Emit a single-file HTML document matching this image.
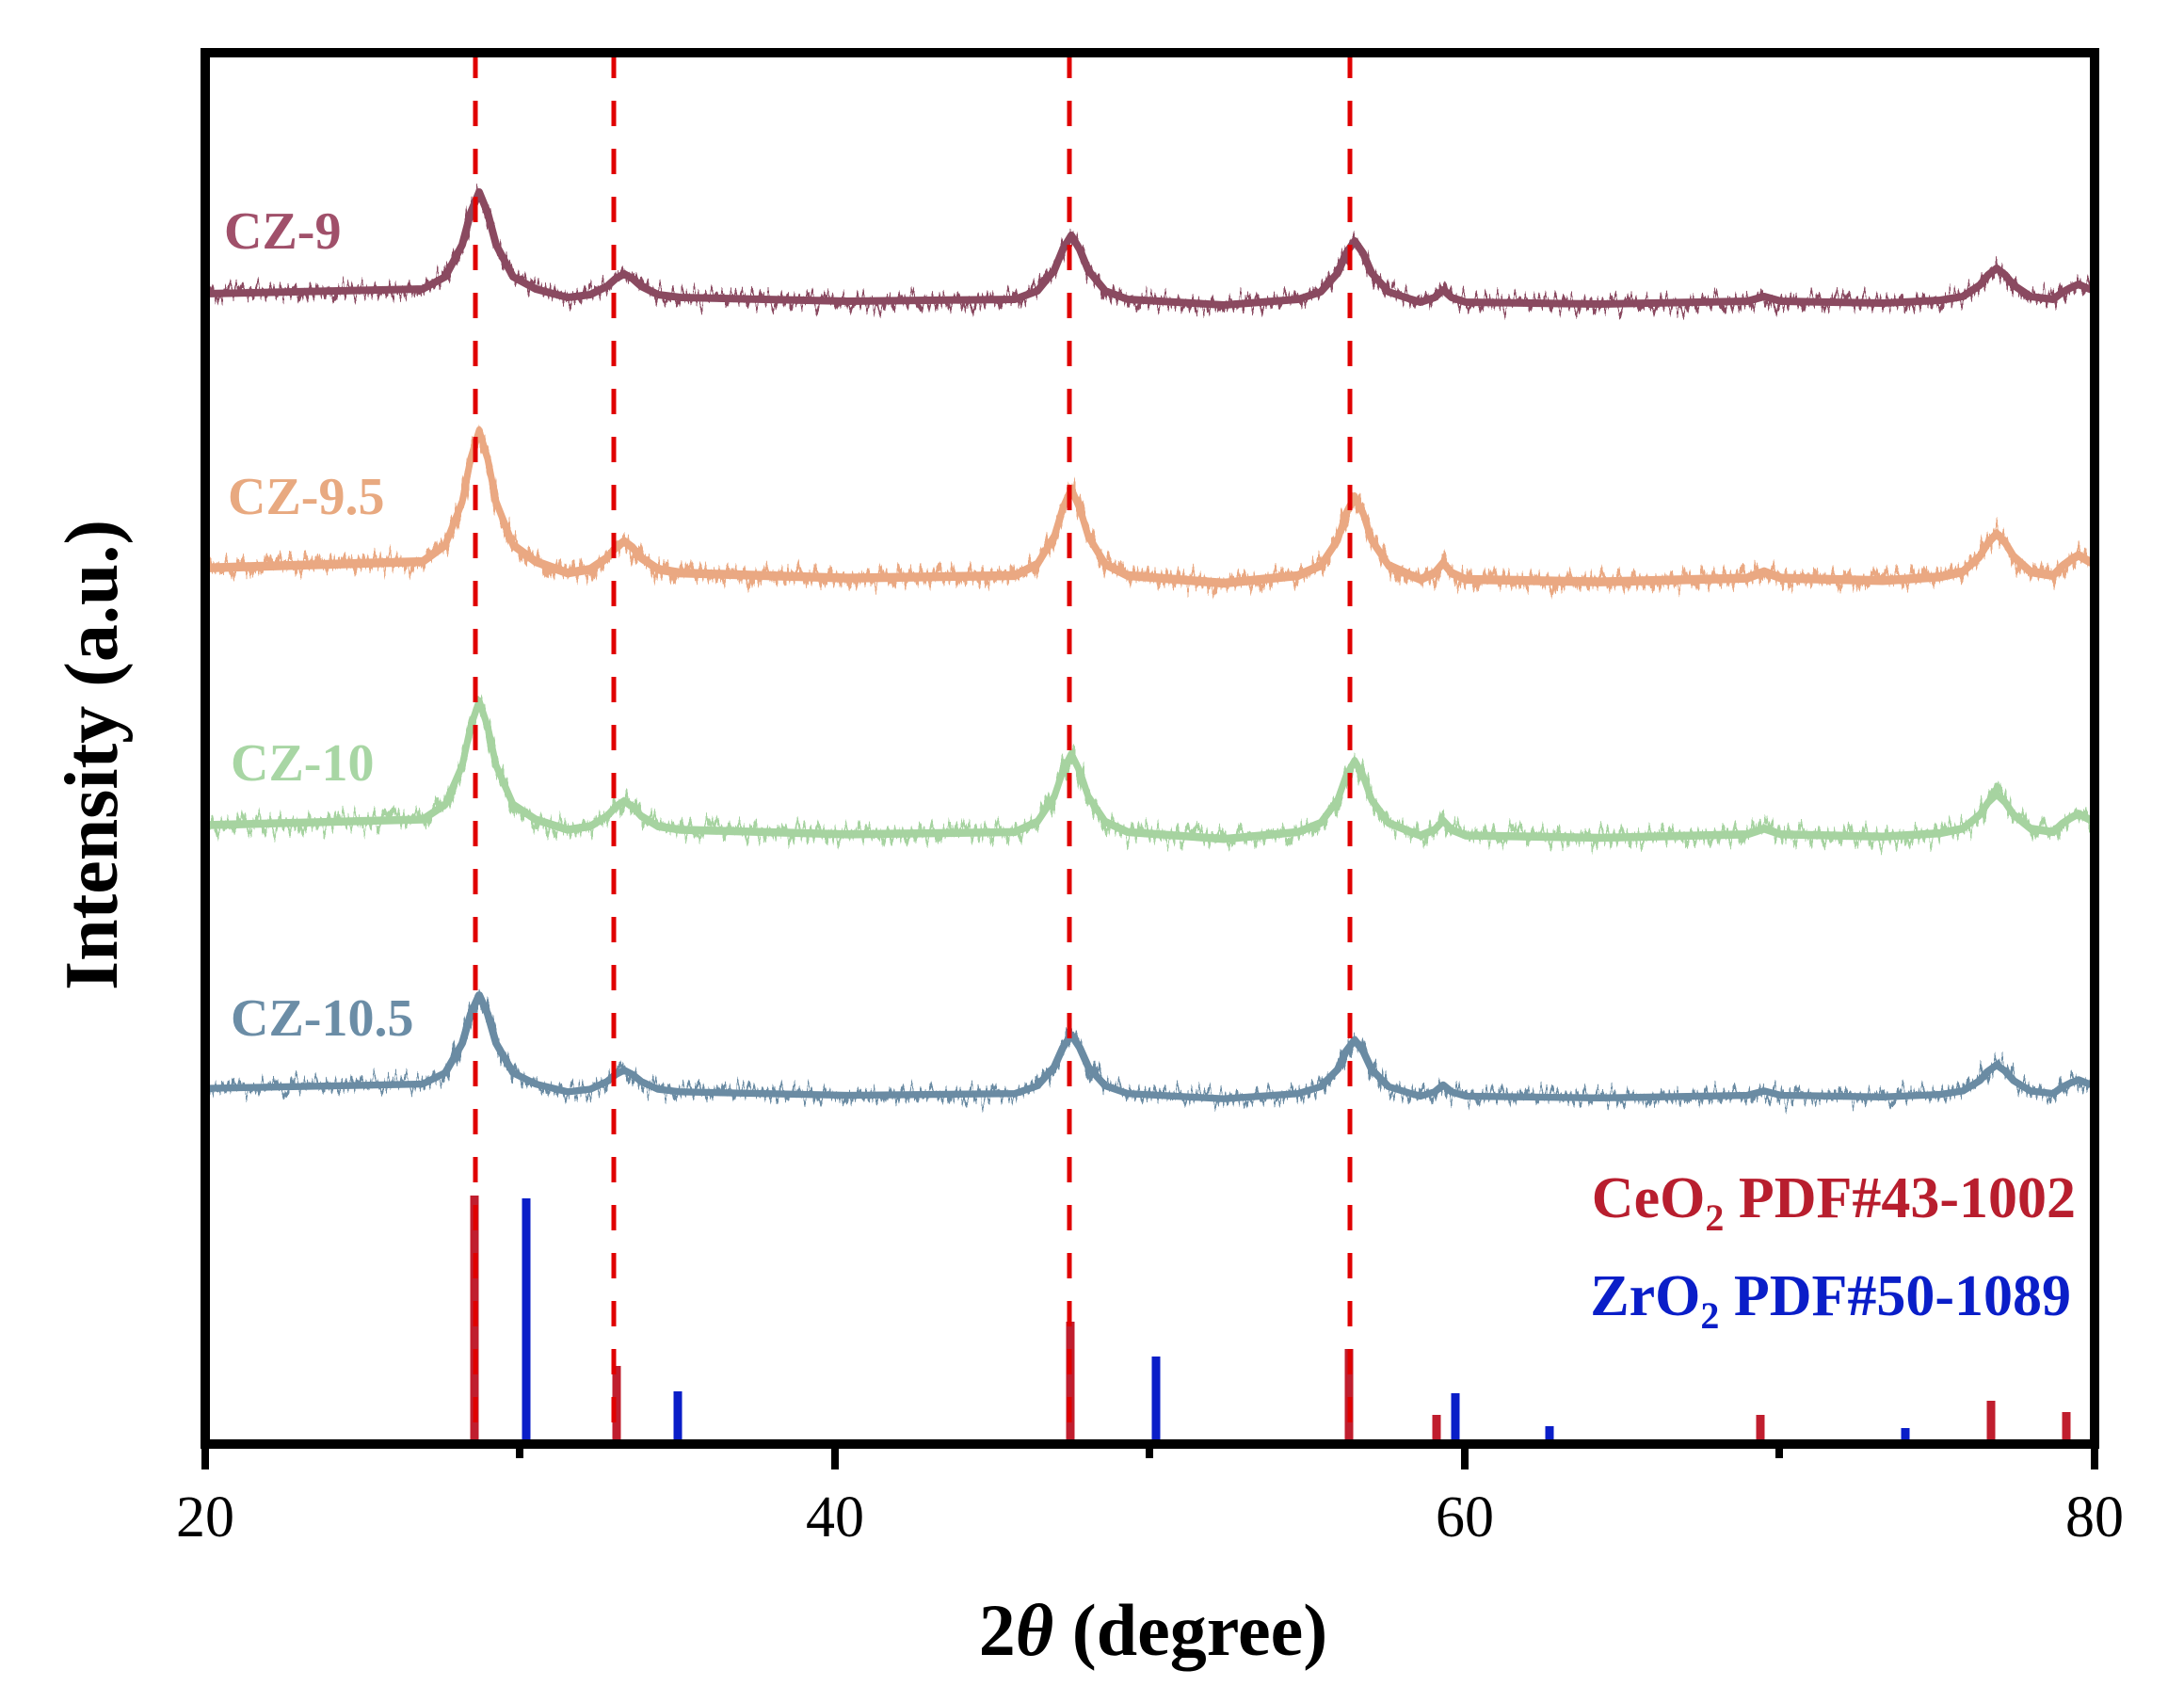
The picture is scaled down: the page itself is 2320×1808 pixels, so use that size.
<!DOCTYPE html>
<html><head><meta charset="utf-8"><style>
html,body{margin:0;padding:0;background:#fff;}
svg{display:block;}
text{font-family:"Liberation Serif",serif;}
</style></head><body>
<svg width="2320" height="1808" viewBox="0 0 2320 1808" xmlns="http://www.w3.org/2000/svg" xmlns:xlink="http://www.w3.org/1999/xlink">
<defs>
<filter id="nz" filterUnits="userSpaceOnUse" x="0" y="0" width="2320" height="1808">
<feTurbulence type="fractalNoise" baseFrequency="0.3 0.004" numOctaves="2" seed="3" result="t"/>
<feColorMatrix in="t" type="matrix" values="0 0 0 0 0.5  0 1 0 0 0  0 0 0 0 0  0 0 0 0 1" result="m"/>
<feDisplacementMap in="SourceGraphic" in2="m" scale="40" xChannelSelector="R" yChannelSelector="G"/>
</filter>
<filter id="nz2" filterUnits="userSpaceOnUse" x="0" y="0" width="2320" height="1808">
<feTurbulence type="fractalNoise" baseFrequency="0.3 0.004" numOctaves="2" seed="11" result="t"/>
<feColorMatrix in="t" type="matrix" values="0 0 0 0 0.5  0 1 0 0 0  0 0 0 0 0  0 0 0 0 1" result="m"/>
<feDisplacementMap in="SourceGraphic" in2="m" scale="40" xChannelSelector="R" yChannelSelector="G"/>
</filter>
<path id="cv" fill="none" stroke-linejoin="round" d="M218 312 L449 307 L473 294 L491 260 L500 226 L509 204 L518 226 L527 260 L545 294 L569 307 L603 316 L627 313 L645 304 L654 296 L663 291 L672 296 L681 304 L699 313 L723 316 L900 320 L1078 318 L1102 309 L1120 287 L1129 265 L1138 250 L1147 265 L1156 287 L1174 309 L1198 318 L1300 324 L1379 318 L1403 310 L1421 290 L1430 269 L1439 256 L1448 269 L1457 290 L1475 310 L1499 318 L1509 321 L1524 316 L1533 308 L1542 316 L1557 321 L1700 323 L1856 320 L1874 315 L1892 320 L2000 322 L2061 319 L2085 315 L2103 303 L2112 292 L2121 285 L2130 292 L2139 303 L2157 315 L2181 318 L2190 311 L2199 306 L2208 302 L2217 306 L2225 309"/>
</defs>
<rect width="2320" height="1808" fill="#fff"/>
<use xlink:href="#cv" stroke="#8a4a60" stroke-width="8"/>
<g filter="url(#nz)"><use xlink:href="#cv" stroke="#8a4a60" stroke-width="7"/></g>
<g transform="translate(0,606) scale(1,1.35) translate(0,-314)"><use xlink:href="#cv" stroke="#eaa882" stroke-width="7"/></g>
<g filter="url(#nz2)"><use xlink:href="#cv" stroke="#eaa882" stroke-width="7" transform="translate(0,606) scale(1,1.35) translate(0,-314)"/></g>
<g transform="translate(0,879) scale(1,1.22) translate(0,-314)"><use xlink:href="#cv" stroke="#a6d3a0" stroke-width="7"/></g>
<g filter="url(#nz)"><use xlink:href="#cv" stroke="#a6d3a0" stroke-width="7" transform="translate(0,879) scale(1,1.22) translate(0,-314)"/></g>
<g transform="translate(0,1158) scale(1,0.92) translate(0,-314)"><use xlink:href="#cv" stroke="#6a8ba3" stroke-width="8"/></g>
<g filter="url(#nz2)"><use xlink:href="#cv" stroke="#6a8ba3" stroke-width="7" transform="translate(0,1158) scale(1,0.92) translate(0,-314)"/></g>
<g stroke="#c01e2e" stroke-width="9">
<line x1="504" y1="1270" x2="504" y2="1534"/>
<line x1="655" y1="1451" x2="655" y2="1534"/>
<line x1="1137" y1="1404" x2="1137" y2="1534"/>
<line x1="1433" y1="1433" x2="1433" y2="1534"/>
<line x1="1526" y1="1503" x2="1526" y2="1534"/>
<line x1="1870" y1="1503" x2="1870" y2="1534"/>
<line x1="2115" y1="1488" x2="2115" y2="1534"/>
<line x1="2195" y1="1500" x2="2195" y2="1534"/>
</g>
<g stroke="#0a1ec8" stroke-width="9">
<line x1="559" y1="1273" x2="559" y2="1534"/>
<line x1="720" y1="1478" x2="720" y2="1534"/>
<line x1="1228" y1="1441" x2="1228" y2="1534"/>
<line x1="1546" y1="1480" x2="1546" y2="1534"/>
<line x1="1646" y1="1515" x2="1646" y2="1534"/>
<line x1="2024" y1="1517" x2="2024" y2="1534"/>
</g>
<g stroke="#e00000" stroke-width="5" stroke-dasharray="27 24">
<line x1="505" y1="56" x2="505" y2="1534"/>
<line x1="652" y1="56" x2="652" y2="1534"/>
<line x1="1136" y1="56" x2="1136" y2="1534"/>
<line x1="1434" y1="56" x2="1434" y2="1534"/>
</g>
<rect x="218" y="56" width="2007" height="1478" fill="none" stroke="#000" stroke-width="10"/>
<g stroke="#000" stroke-width="8">
<line x1="218" y1="1534" x2="218" y2="1561"/>
<line x1="887" y1="1534" x2="887" y2="1561"/>
<line x1="1556" y1="1534" x2="1556" y2="1561"/>
<line x1="2225" y1="1534" x2="2225" y2="1561"/>
<line x1="552" y1="1534" x2="552" y2="1549"/>
<line x1="1221" y1="1534" x2="1221" y2="1549"/>
<line x1="1890" y1="1534" x2="1890" y2="1549"/>
</g>
<g font-size="62" text-anchor="middle" fill="#000">
<text x="218" y="1632">20</text>
<text x="887" y="1632">40</text>
<text x="1556" y="1632">60</text>
<text x="2225" y="1632">80</text>
</g>
<text x="1225" y="1758" font-size="78" font-weight="bold" text-anchor="middle">2<tspan font-style="italic">θ</tspan> (degree)</text>
<text transform="translate(124,802) rotate(-90)" font-size="80" font-weight="bold" text-anchor="middle">Intensity (a.u.)</text>
<g font-size="56" font-weight="bold">
<text x="238" y="264" fill="#a0506a">CZ-9</text>
<text x="242" y="546" fill="#e8a980">CZ-9.5</text>
<text x="245" y="829" fill="#a8d6a4">CZ-10</text>
<text x="245" y="1100" fill="#6b8da6">CZ-10.5</text>
</g>
<g font-size="62" font-weight="bold" text-anchor="end">
<text x="2205" y="1293" fill="#b81e2e">CeO<tspan font-size="40" dy="14">2</tspan><tspan dy="-14"> PDF#43-1002</tspan></text>
<text x="2200" y="1397" fill="#0a1ec8">ZrO<tspan font-size="40" dy="14">2</tspan><tspan dy="-14"> PDF#50-1089</tspan></text>
</g>
</svg>
</body></html>
